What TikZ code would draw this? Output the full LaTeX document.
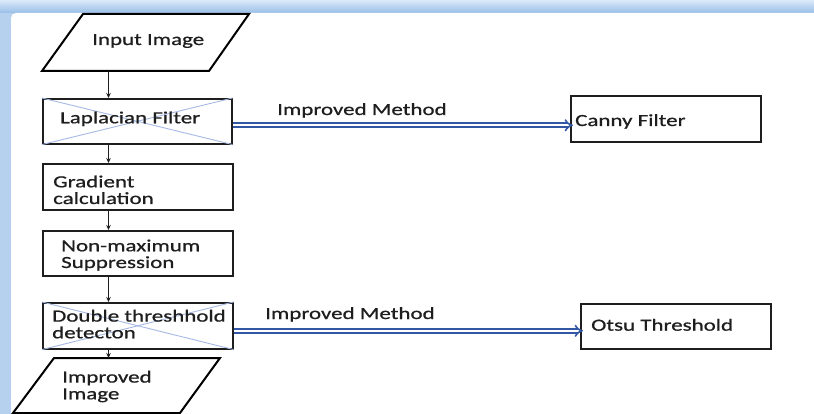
\documentclass[tikz,border=0pt]{standalone}
\usepackage{fontspec}
\setmainfont{Carlito}[FakeStretch=1.35,FakeBold=0.8]
\usetikzlibrary{arrows.meta}
\definecolor{frameblue}{RGB}{182,209,238}
\definecolor{frametop}{RGB}{220,233,248}
\definecolor{framedark}{RGB}{152,190,232}
\definecolor{linkblue}{RGB}{50,88,165}
\definecolor{crossblue}{RGB}{165,185,228}
\definecolor{inkgray}{RGB}{30,30,30}

\begin{document}
\begin{tikzpicture}[x=1pt,y=-1pt,
  stepbox/.style={draw=inkgray, line width=1.6pt, minimum width=190pt,
    minimum height=45pt, inner sep=0pt, anchor=north west},
  lbl/.style={anchor=base west, inner sep=0pt, text=inkgray,
    font=\fontsize{17}{16.7}\selectfont, align=left},
  para/.style={draw=black, line width=2pt, line join=miter},
  flow/.style={draw=inkgray, line width=0.9pt, -{Stealth[length=5pt,width=4.5pt]}},
  crossline/.style={draw=crossblue, line width=0.9pt},
  implink/.style={draw=linkblue, line width=1.6pt, double=white,
    double distance=2.4pt, -{Implies[length=6pt,width=12pt]}, shorten >=-3pt}]

\useasboundingbox (0,0) rectangle (814,414);
\clip (0,0) rectangle (814,414);

% window frame
\fill[frameblue] (0,0) rectangle (814,414);
\shade[top color=frametop, bottom color=framedark] (0,0) rectangle (814,13);
\fill[white, rounded corners=5pt] (11,13) rectangle (840,440);

% input parallelogram
\coordinate (in1) at (83,14);
\coordinate (in2) at (249,14);
\coordinate (in3) at (209,71);
\coordinate (in4) at (42,71);
\draw[para] (in1) -- (in2) -- (in3) -- (in4) -- cycle;
\node[lbl] (intext) at (92,45) {Input Image};
\coordinate (inout) at (108.5,71);

% processing steps
\node[stepbox, minimum width=189pt] (lap) at (42,98) {};
\node[stepbox, minimum height=46pt] (grad) at (42,163) {};
\node[stepbox] (nms) at (42,230) {};
\node[stepbox, minimum height=46pt] (dbl) at (42,302) {};

\draw[crossline] (lap.north west) -- (lap.south east);
\draw[crossline] (lap.south west) -- (lap.north east);
\draw[crossline] (dbl.north west) -- (dbl.south east);
\draw[crossline] (dbl.south west) -- (dbl.north east);

% multi-line labels sit on the baseline of their last line
\node[lbl] (laptext) at (60,123.3) {Laplacian Filter};
\node[lbl] (gradtext) at (53,204) {Gradient\\calculation};
\node[lbl] (nmstext) at (61,268) {Non-maximum\\Suppression};
\node[lbl] (dbltext) at (52,338.3) {Double threshhold\\detecton};

% output parallelogram
\coordinate (out1) at (54,358);
\coordinate (out2) at (220,358);
\coordinate (out3) at (180,413);
\coordinate (out4) at (13,413);
\draw[para] (out1) -- (out2) -- (out3) -- (out4) -- cycle;
\node[lbl] (outtext) at (62,399.3) {Improved\\Image};
\coordinate (outin) at (108.5,358);

% replacement methods
\node[stepbox, minimum height=46pt] (canny) at (570,95) {};
\node[lbl] (cannytext) at (575,126) {Canny Filter};
\node[stepbox] (otsu) at (580,303) {};
\node[lbl] (otsutext) at (591,330.7) {Otsu Threshold};

% main flow
\draw[flow] (inout) -- (lap.north -| inout);
\draw[flow] (lap.south -| inout) -- (grad.north -| inout);
\draw[flow] (grad.south -| inout) -- (nms.north -| inout);
\draw[flow] (nms.south -| inout) -- (dbl.north -| inout);
\draw[flow] (dbl.south -| inout) -- (outin);

% improvement links
\coordinate (a1) at ([yshift=-4pt]lap.east);
\draw[implink] (a1) -- (canny.west |- a1);
\node[lbl] (imp1) at (277,115) {Improved Method};
\coordinate (a2) at ([yshift=-5pt]dbl.east);
\draw[implink] (a2) -- (otsu.west |- a2);
\node[lbl] (imp2) at (265,319) {Improved Method};
\end{tikzpicture}
\end{document}
